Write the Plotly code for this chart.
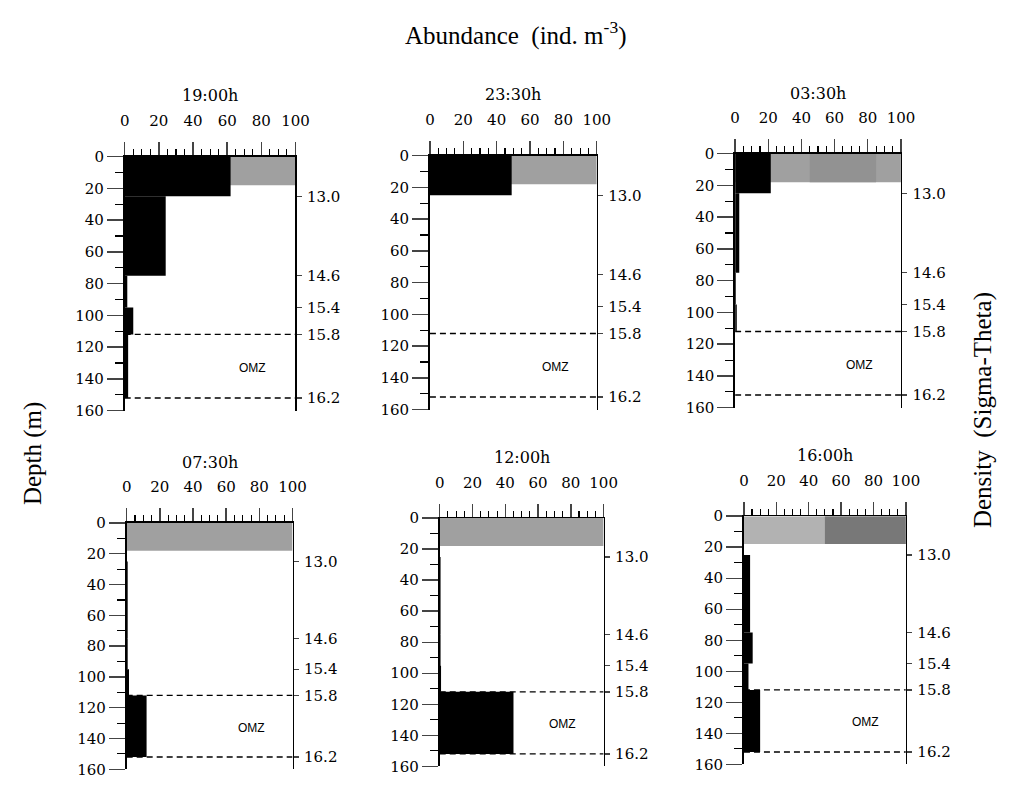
import plotly.graph_objects as go

# ---------------- data ----------------
panel_titles = ["19:00h", "23:30h", "03:30h", "07:30h", "12:00h", "16:00h"]
layer_top = [0, 25, 75, 95, 112]
layer_bottom = [25, 75, 95, 112, 152]
abund_1900 = [62, 24, 1.5, 5, 2]
abund_2330 = [49, 0, 0, 0, 0]
abund_0330 = [21.5, 2.5, 0.5, 1, 0]
abund_0730 = [0, 0.6, 0.6, 1.4, 12]
abund_1200 = [0, 0.5, 0.5, 0.8, 45]
abund_1600 = [0, 3.8, 5.4, 2.8, 10]
abundances = [abund_1900, abund_2330, abund_0330, abund_0730, abund_1200, abund_1600]
density_depths = [25, 75, 95, 112, 152]
density_labels = ["13.0", "14.6", "15.4", "15.8", "16.2"]
omz_bounds = [112, 152]
mixed_layer = [0, 18]
x_ticks = [0, 20, 40, 60, 80, 100]
depth_ticks = [0, 20, 40, 60, 80, 100, 120, 140, 160]

# ---------------- layout helpers ----------------
W, H = 1018, 789
# pixel boxes (left, right, top, bottom)
boxes = [
    (122, 296, 151, 411), (433, 603, 150, 410), (744, 913, 148, 408),
    (124, 293, 526, 778), (443, 610, 521, 775), (753, 918, 519, 773),
]
SERIF = "DejaVu Serif"
TSERIF = "Liberation Serif"

fig = go.Figure()
layout = dict(
    width=W, height=H, margin=dict(l=0, r=0, t=0, b=0),
    paper_bgcolor="white", plot_bgcolor="white", showlegend=False,
    font=dict(family=SERIF, color="black", size=15),
    shapes=[], annotations=[],
)

mids = [(a + b) / 2 for a, b in zip(layer_top, layer_bottom)]
thick = [b - a for a, b in zip(layer_top, layer_bottom)]

for i, (title, vals) in enumerate(zip(panel_titles, abundances)):
    n = i + 1
    xa = "x" if n == 1 else f"x{n}"
    ya = "y" if n == 1 else f"y{n}"
    yr_n = n + 6
    yr = f"y{yr_n}"
    l, r, t, b = boxes[i]
    xdom = [l / W, r / W]
    ydom = [1 - b / H, 1 - t / H]

    fig.add_trace(go.Bar(
        x=vals, y=mids, width=thick, orientation="h", base=0,
        marker=dict(color="black", line=dict(width=0)),
        xaxis=xa, yaxis=ya, hoverinfo="skip",
    ))
    fig.add_trace(go.Scatter(x=[None], y=[None], xaxis=xa, yaxis=yr,
                             mode="markers", hoverinfo="skip"))

    layout[f"xaxis{'' if n == 1 else n}"] = dict(
        domain=xdom, anchor=ya, side="top", range=[0, 100],
        tickvals=x_ticks, ticks="outside", ticklen=13, tickwidth=1.4,
        ticklabelstandoff=10,
        minor=dict(dtick=5, ticks="outside", ticklen=6, tickwidth=1.1, tickcolor="black"),
        showline=True, linecolor="black", linewidth=1.6, showgrid=False,
        zeroline=False, tickfont=dict(family=SERIF, size=15), fixedrange=True,
    )
    layout[f"yaxis{'' if n == 1 else n}"] = dict(
        domain=ydom, anchor=xa, range=[160, 0], tickvals=depth_ticks,
        ticks="outside", ticklen=16, tickwidth=1.4,
        minor=dict(dtick=10, ticks="outside", ticklen=8, tickwidth=1.1, tickcolor="black"),
        showline=True, linecolor="black", linewidth=1.8, showgrid=False,
        zeroline=False, tickfont=dict(family=SERIF, size=15), fixedrange=True,
    )
    layout[f"yaxis{yr_n}"] = dict(
        domain=ydom, anchor=xa, overlaying=ya, side="right", range=[160, 0],
        tickvals=density_depths, ticktext=density_labels,
        ticks="outside", ticklen=5, tickwidth=1.3, ticklabelstandoff=2,
        showline=True, linecolor="black", linewidth=1.5, showgrid=False,
        zeroline=False, tickfont=dict(family=SERIF, size=15), fixedrange=True,
    )

    # mixed layer shading
    layout["shapes"].append(dict(
        type="rect", xref=xa, yref=ya, x0=0, x1=100,
        y0=mixed_layer[0], y1=mixed_layer[1],
        fillcolor="#a0a0a0", line=dict(width=0), layer="below"))
    if n == 6:
        layout["shapes"][-1]["fillcolor"] = "#b2b2b2"
        layout["shapes"].append(dict(
            type="rect", xref=xa, yref=ya, x0=50, x1=100,
            y0=mixed_layer[0], y1=mixed_layer[1],
            fillcolor="#787878", line=dict(width=0), layer="below"))
    if n == 3:
        layout["shapes"].append(dict(
            type="rect", xref=xa, yref=ya, x0=45, x1=85,
            y0=mixed_layer[0], y1=mixed_layer[1],
            fillcolor="#929292", line=dict(width=0), layer="below"))

    # OMZ boundaries
    for d in omz_bounds:
        layout["shapes"].append(dict(
            type="line", xref=xa, yref=ya, x0=0, x1=100, y0=d, y1=d,
            line=dict(color="black", width=1.4, dash="6px,4px"), layer="below"))

    layout["annotations"].append(dict(
        text="OMZ", xref=xa, yref=ya, x=75, y=133,
        showarrow=False, font=dict(family="Liberation Sans", size=12)))

    # panel title
    ty = t - 62
    layout["annotations"].append(dict(
        text=title, xref="paper", yref="paper", x=(l + r) / 2 / W, y=1 - ty / H,
        showarrow=False, font=dict(family=SERIF, size=16), xanchor="center", yanchor="middle"))

layout["annotations"] += [
    dict(text="Abundance  (ind. m<sup>-3</sup>)", xref="paper", yref="paper",
         x=520 / W, y=1 - 25 / H, showarrow=False,
         font=dict(family=TSERIF, size=25), xanchor="center", yanchor="middle"),
    dict(text="Depth (m)", xref="paper", yref="paper", x=28 / W, y=1 - 455 / H,
         showarrow=False, textangle=-90,
         font=dict(family=TSERIF, size=25), xanchor="center", yanchor="middle"),
    dict(text="Density  (Sigma-Theta)", xref="paper", yref="paper", x=996 / W, y=1 - 410 / H,
         showarrow=False, textangle=-90,
         font=dict(family=TSERIF, size=25), xanchor="center", yanchor="middle"),
]

fig.update_layout(**layout)
fig.write_html("out.html",
               config={"displayModeBar": False, "staticPlot": True},
               post_script="document.body.style.margin='0';document.body.style.overflow='hidden';")
